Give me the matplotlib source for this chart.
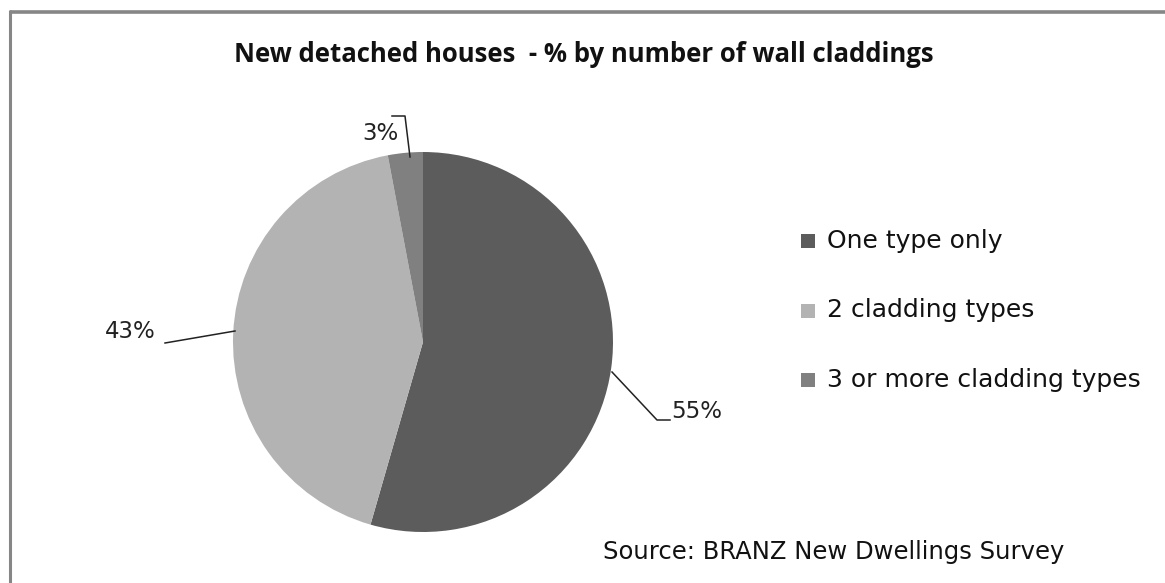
import matplotlib
matplotlib.use("Agg")
import matplotlib.pyplot as plt
from matplotlib.patches import Rectangle
from matplotlib.lines import Line2D

# Share of new detached houses by number of wall cladding types
categories = ["One type only", "2 cladding types", "3 or more cladding types"]
shares = [55, 43, 3]
share_labels = ["55%", "43%", "3%"]
colors = ["#5c5c5c", "#b3b3b3", "#808080"]

title = "New detached houses  - % by number of wall claddings"
source = "Source: BRANZ New Dwellings Survey"

W, H = 1165, 583
fig = plt.figure(figsize=(W / 100, H / 100), dpi=100)
ax = fig.add_axes([0, 0, 1, 1])

TITLE_FONT = ["Open Sans", "DejaVu Sans"]
FONT = ["DejaVu Sans"]


def py(y):
    """Convert a top-down pixel row to axes y."""
    return H - y


cx, cy, r = 423, 342, 190
wedges, _ = ax.pie(shares, colors=colors, startangle=90, counterclock=False,
                   center=(cx, py(cy)), radius=r,
                   wedgeprops=dict(linewidth=0))
ax.set_xlim(0, W)
ax.set_ylim(0, H)
ax.set_aspect("auto")
ax.axis("off")

# chart frame (top and left edges)
ax.add_line(Line2D([10, W], [py(11.5), py(11.5)], color="#868686", lw=2.6,
                   solid_capstyle="butt"))
ax.add_line(Line2D([10, 10], [py(10), 0], color="#868686", lw=2.2,
                   solid_capstyle="butt"))

ax.text(584, py(55), title, ha="center", va="center", fontsize=18.5,
        fontweight="bold", family=TITLE_FONT, color="#111111")

# leader lines and value labels
lw = 1.1
ax.add_line(Line2D([612, 657, 670], [py(372), py(420), py(420)],
                   color="#222222", lw=lw))
ax.text(671, py(411), share_labels[0], ha="left", va="center",
        fontsize=16.5, family=FONT, color="#222222")

ax.add_line(Line2D([165, 235], [py(343), py(331)], color="#222222", lw=lw))
ax.text(156, py(331), share_labels[1], ha="right", va="center",
        fontsize=16.5, family=FONT, color="#222222")

ax.add_line(Line2D([392, 405, 410], [py(116), py(116), py(157)],
                   color="#222222", lw=lw))
ax.text(380, py(133), share_labels[2], ha="center", va="center",
        fontsize=16.5, family=FONT, color="#222222")

# legend
for i, (name, col) in enumerate(zip(categories, colors)):
    yc = 241 + i * 69.5
    ax.add_patch(Rectangle((801, py(yc + 7)), 14, 14, facecolor=col,
                           edgecolor="none"))
    ax.text(827, py(yc), name, ha="left", va="center", fontsize=18,
            family=FONT, color="#111111")

ax.text(603, py(552), source, ha="left", va="center", fontsize=17.5,
        family=FONT, color="#111111")

fig.savefig("out.png", dpi=100, facecolor="white")
